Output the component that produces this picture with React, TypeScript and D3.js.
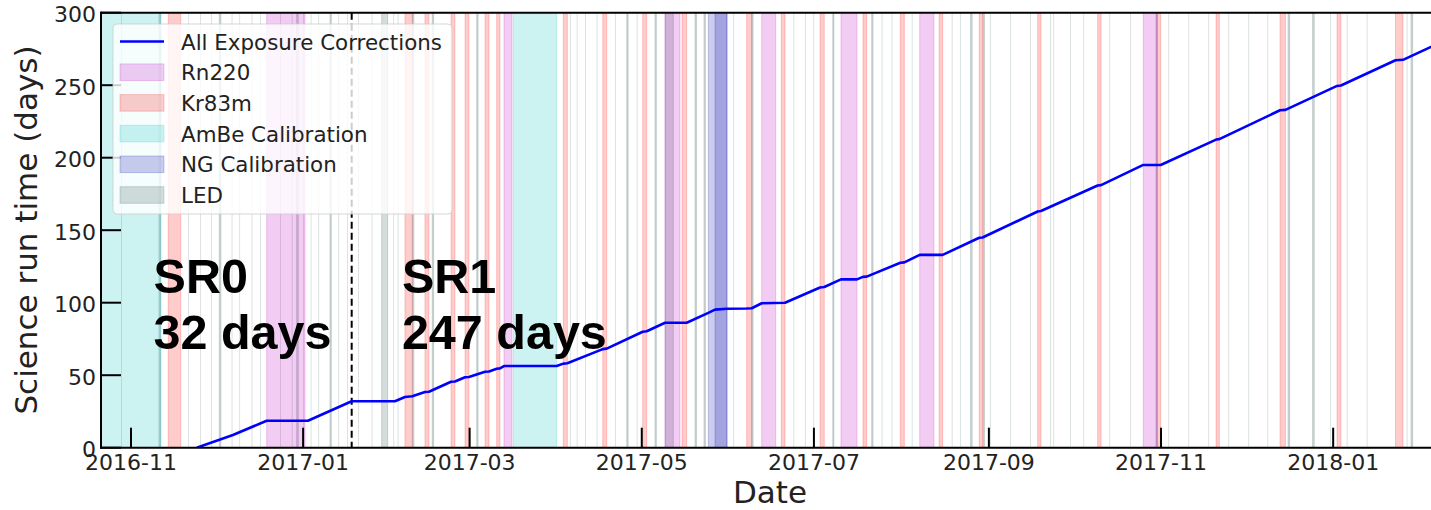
import React from 'react';
import * as d3 from 'd3';

// ---- data -------------------------------------------------------------
const X_DOMAIN = ['2016-10-21 09:00', '2018-02-07 12:00'];
const Y_DOMAIN = [0, 300];
const Y_TICKS = [0, 50, 100, 150, 200, 250, 300];
const SR_BOUNDARY = '2017-01-18 05:00';

const SR_LABELS = [
  { at: '2016-11-09 00:00', lines: ['SR0', '32 days'] },
  { at: '2017-02-05 00:00', lines: ['SR1', '247 days'] },
];

// cumulative science exposure [date, days]
const EXPOSURE: [string, number][] = [
  ['2016-11-24 07:00', 0], ['2016-12-07 03:00', 8.8], ['2016-12-19 02:00', 18.6],
  ['2017-01-02 17:00', 18.6], ['2017-01-18 05:00', 32], ['2017-02-02 13:00', 32],
  ['2017-02-06 02:00', 35.0], ['2017-02-08 16:00', 35.5], ['2017-02-13 04:00', 38.4],
  ['2017-02-14 14:00', 38.6], ['2017-02-22 10:00', 45.5], ['2017-02-23 19:00', 45.7],
  ['2017-02-27 09:00', 48.6], ['2017-02-28 18:00', 48.8], ['2017-03-06 11:00', 52.4],
  ['2017-03-07 21:00', 52.6], ['2017-03-10 14:00', 54.5], ['2017-03-11 18:00', 54.7],
  ['2017-03-13 04:00', 56.3], ['2017-03-31 20:00', 56.3], ['2017-04-03 05:00', 58.0],
  ['2017-04-04 15:00', 58.2], ['2017-04-17 04:00', 68.0], ['2017-04-18 14:00', 68.3],
  ['2017-05-01 08:00', 80.0], ['2017-05-02 18:00', 80.3], ['2017-05-09 06:00', 86.2],
  ['2017-05-16 22:00', 86.2], ['2017-05-24 14:00', 93.0], ['2017-05-26 23:00', 95.2],
  ['2017-05-31 05:00', 95.8], ['2017-06-07 04:00', 96.0], ['2017-06-08 23:00', 96.2],
  ['2017-06-12 12:00', 99.6], ['2017-06-20 18:00', 100.0], ['2017-07-03 04:00', 110.5],
  ['2017-07-04 16:00', 110.8], ['2017-07-10 14:00', 116.1], ['2017-07-16 06:00', 116.1],
  ['2017-07-18 09:00', 117.8], ['2017-07-19 17:00', 118.0], ['2017-07-31 15:00', 127.5],
  ['2017-08-02 01:00', 127.8], ['2017-08-07 12:00', 133.0], ['2017-08-15 15:00', 133.0],
  ['2017-08-28 14:00', 144.8], ['2017-08-29 18:00', 145.0], ['2017-09-18 07:00', 162.9],
  ['2017-09-19 11:00', 163.2], ['2017-10-09 13:00', 180.8], ['2017-10-10 18:00', 181.1],
  ['2017-10-25 17:00', 195.0], ['2017-10-31 21:00', 195.0], ['2017-11-20 12:00', 212.5],
  ['2017-11-21 16:00', 212.8], ['2017-12-13 04:00', 232.7], ['2017-12-15 02:00', 233.0],
  ['2018-01-02 09:00', 249.5], ['2018-01-03 18:00', 249.8], ['2018-01-23 02:00', 267.2],
  ['2018-01-25 18:00', 267.5], ['2018-02-07 12:00', 279.0],
];

// calibration periods [start, end]
const RN220: [string, string][] = [
  ['2016-12-19 02:00', '2017-01-01 16:00'], ['2017-03-13 04:00', '2017-03-16 00:00'],
  ['2017-05-09 06:00', '2017-05-14 13:00'], ['2017-06-12 12:00', '2017-06-17 11:00'],
  ['2017-07-10 14:00', '2017-07-16 06:00'], ['2017-08-07 12:00', '2017-08-12 13:00'],
  ['2017-10-25 17:00', '2017-10-30 11:00'],
];
const KR83M: [string, string][] = [
  ['2016-11-14 05:00', '2016-11-18 15:00'], ['2017-02-06 02:00', '2017-02-08 16:00'],
  ['2017-02-13 04:00', '2017-02-14 14:00'], ['2017-02-22 10:00', '2017-02-23 19:00'],
  ['2017-02-27 09:00', '2017-02-28 18:00'], ['2017-03-06 11:00', '2017-03-07 21:00'],
  ['2017-03-10 14:00', '2017-03-11 18:00'], ['2017-04-03 05:00', '2017-04-04 15:00'],
  ['2017-04-17 04:00', '2017-04-18 14:00'], ['2017-05-01 08:00', '2017-05-02 18:00'],
  ['2017-05-15 06:00', '2017-05-16 22:00'], ['2017-06-07 04:00', '2017-06-08 23:00'],
  ['2017-06-19 11:00', '2017-06-20 18:00'], ['2017-07-03 04:00', '2017-07-04 16:00'],
  ['2017-07-18 09:00', '2017-07-19 17:00'], ['2017-07-31 15:00', '2017-08-02 01:00'],
  ['2017-08-14 09:00', '2017-08-15 15:00'], ['2017-08-28 14:00', '2017-08-29 18:00'],
  ['2017-09-18 07:00', '2017-09-19 11:00'], ['2017-10-09 13:00', '2017-10-10 18:00'],
  ['2017-10-30 16:00', '2017-10-31 21:00'], ['2017-11-20 12:00', '2017-11-21 16:00'],
  ['2017-12-13 04:00', '2017-12-15 02:00'], ['2018-01-02 09:00', '2018-01-03 18:00'],
  ['2018-01-23 02:00', '2018-01-25 18:00'],
];
const AMBE: [string, string][] = [
  ['2016-10-10 00:00', '2016-11-11 15:00'], ['2017-03-16 11:00', '2017-03-31 20:00'],
];
const NG: [string, string][] = [
  ['2017-05-24 14:00', '2017-05-31 05:00'], ['2017-05-26 23:00', '2017-05-31 05:00'],
];
// LED runs [start, duration in hours]
const LED: [string, number][] = [
  ['2016-10-28 11:00', 7], ['2016-11-10 22:00', 14], ['2016-11-21 07:00', 7],
  ['2016-11-25 11:00', 7], ['2016-11-29 08:00', 7], ['2016-12-02 07:00', 14],
  ['2016-12-06 16:00', 7], ['2016-12-09 09:00', 7], ['2016-12-13 18:00', 7],
  ['2016-12-16 17:00', 7], ['2016-12-23 19:00', 7], ['2016-12-27 23:00', 7],
  ['2016-12-29 17:00', 14], ['2016-12-31 23:00', 7], ['2017-01-03 16:00', 7],
  ['2017-01-06 09:00', 7], ['2017-01-10 12:00', 12], ['2017-01-13 11:00', 7],
  ['2017-01-16 13:00', 7], ['2017-01-20 11:00', 7], ['2017-01-25 07:00', 7],
  ['2017-01-28 20:00', 51], ['2017-02-01 23:00', 7], ['2017-02-03 12:00', 7],
  ['2017-02-08 18:00', 12], ['2017-02-15 18:00', 12], ['2017-03-03 12:00', 12],
  ['2017-04-05 13:00', 7], ['2017-04-07 23:00', 7], ['2017-04-10 21:00', 7],
  ['2017-04-15 00:00', 7], ['2017-04-21 12:00', 7], ['2017-04-25 16:00', 12],
  ['2017-04-29 05:00', 7], ['2017-05-05 16:00', 12], ['2017-05-09 06:00', 70],
  ['2017-05-19 21:00', 12], ['2017-05-23 01:00', 12], ['2017-06-02 10:00', 7],
  ['2017-06-08 23:00', 12], ['2017-06-23 17:00', 7], ['2017-06-27 20:00', 7],
  ['2017-06-30 19:00', 7], ['2017-07-07 16:00', 10], ['2017-07-21 11:00', 12],
  ['2017-07-25 00:00', 7], ['2017-07-28 13:00', 7], ['2017-08-04 16:00', 7],
  ['2017-08-18 20:00', 7], ['2017-08-21 18:00', 7], ['2017-08-25 12:00', 14],
  ['2017-08-29 22:00', 12], ['2017-09-01 09:00', 7], ['2017-09-08 12:00', 7],
  ['2017-09-15 14:00', 7], ['2017-09-22 16:00', 7], ['2017-09-23 20:00', 7],
  ['2017-09-29 18:00', 7], ['2017-10-04 11:00', 7], ['2017-10-13 16:00', 7],
  ['2017-10-21 00:00', 7], ['2017-10-30 05:00', 12], ['2017-11-03 14:00', 7],
  ['2017-11-10 16:00', 7], ['2017-11-17 18:00', 7], ['2017-11-24 20:00', 7],
  ['2017-12-01 22:00', 7], ['2017-12-08 16:00', 7], ['2017-12-16 00:00', 14],
  ['2017-12-24 17:00', 14], ['2017-12-30 21:00', 7], ['2018-01-05 19:00', 7],
  ['2018-01-12 21:00', 7], ['2018-01-27 01:00', 7], ['2018-01-28 14:00', 14],
];

const LEGEND_LABELS = ['All Exposure Corrections', 'Rn220', 'Kr83m', 'AmBe Calibration', 'NG Calibration', 'LED'];

// ---- styling ----------------------------------------------------------
const COLORS = {
  line: '#0000ff',
  rn: 'rgb(191,0,191)',
  kr: 'rgb(255,0,0)',
  ambe: 'rgb(0,191,191)',
  ng: 'rgb(0,0,170)',
  led: 'rgb(47,79,79)',
};
const ALPHA = 0.2;
const FONT = '"DejaVu Sans", sans-serif';
const W = 1431;
const H = 510;
const PLOT = { left: 101, right: 1439, top: 12.7, bottom: 447.7 };

const parse = d3.utcParse('%Y-%m-%d %H:%M');
const pd = (s: string) => parse(s) as Date;

export default function App() {
  const x = d3.scaleUtc().domain([pd(X_DOMAIN[0]), pd(X_DOMAIN[1])]).range([PLOT.left, PLOT.right]);
  const y = d3.scaleLinear().domain(Y_DOMAIN).range([PLOT.bottom, PLOT.top]);
  const xTicks = x.ticks(d3.utcMonth.every(2) as d3.CountableTimeInterval);
  const fmt = d3.utcFormat('%Y-%m');

  const line = d3
    .line<[string, number]>()
    .x((d) => x(pd(d[0])))
    .y((d) => y(d[1]));

  // full-height span; very short spans are drawn as hairlines without an edge
  const span = (s: Date, e: Date, color: string, key: string, edge = true) => (
    <rect
      key={key}
      x={x(s)}
      y={PLOT.top - 5}
      width={Math.max(0, x(e) - x(s))}
      height={PLOT.bottom - PLOT.top + 10}
      fill={color}
      fillOpacity={ALPHA}
      stroke={edge ? color : 'none'}
      strokeOpacity={ALPHA}
      strokeWidth={1}
    />
  );

  const legendX = 113;
  const legendY = 24;
  const rowY = (i: number) => 41.5 + i * 30.7;
  const patchColors = [COLORS.rn, COLORS.kr, COLORS.ambe, COLORS.ng, COLORS.led];

  return (
    <svg
      width={W}
      height={H}
      style={{ position: 'fixed', left: 0, top: 0, background: '#fff' }}
      fontFamily={FONT}
    >
      <defs>
        <clipPath id="plot-area">
          <rect x={PLOT.left} y={PLOT.top} width={PLOT.right - PLOT.left} height={PLOT.bottom - PLOT.top} />
        </clipPath>
      </defs>
      <rect width={W} height={H} fill="#fff" />

      <g clipPath="url(#plot-area)">
        {LED.map(([s, h], i) => {
          const a = pd(s);
          return span(a, d3.utcHour.offset(a, h), COLORS.led, `led${i}`, h > 8);
        })}
        {AMBE.map(([s, e], i) => span(pd(s), pd(e), COLORS.ambe, `ambe${i}`))}
        {KR83M.map(([s, e], i) => span(pd(s), pd(e), COLORS.kr, `kr${i}`))}
        {RN220.map(([s, e], i) => span(pd(s), pd(e), COLORS.rn, `rn${i}`))}
        {NG.map(([s, e], i) => span(pd(s), pd(e), COLORS.ng, `ng${i}`))}

        <line
          x1={x(pd(SR_BOUNDARY))}
          x2={x(pd(SR_BOUNDARY))}
          y1={PLOT.top}
          y2={PLOT.bottom}
          stroke="#000"
          strokeWidth={2}
          strokeDasharray="7,4"
        />
        <path d={line(EXPOSURE) || ''} fill="none" stroke={COLORS.line} strokeWidth={2.6} strokeLinejoin="round" />
      </g>

      {/* inward ticks */}
      {Y_TICKS.map((v) => (
        <line key={`yt${v}`} x1={PLOT.left} x2={PLOT.left + 20} y1={y(v)} y2={y(v)} stroke="#000" strokeWidth={2} />
      ))}
      {xTicks.map((t) => (
        <line key={`xt${+t}`} x1={x(t)} x2={x(t)} y1={PLOT.bottom} y2={PLOT.bottom - 20} stroke="#000" strokeWidth={2} />
      ))}

      {/* spines */}
      <line x1={PLOT.left} x2={PLOT.left} y1={PLOT.top - 1} y2={PLOT.bottom + 1} stroke="#000" strokeWidth={2} />
      <line x1={PLOT.left - 1} x2={PLOT.right} y1={PLOT.bottom} y2={PLOT.bottom} stroke="#000" strokeWidth={2} />
      <line x1={PLOT.left - 1} x2={PLOT.right} y1={PLOT.top} y2={PLOT.top} stroke="#000" strokeWidth={2} />

      {/* tick labels */}
      {Y_TICKS.map((v) => (
        <text key={`yl${v}`} x={96} y={y(v) + 9.5} textAnchor="end" fontSize={22} fill="#222">
          {v}
        </text>
      ))}
      {xTicks.map((t) => (
        <text key={`xl${+t}`} x={x(t)} y={470} textAnchor="middle" fontSize={22} fill="#222">
          {fmt(t)}
        </text>
      ))}

      {/* axis titles */}
      <text x={770} y={503} textAnchor="middle" fontSize={31} fill="#222">
        Date
      </text>
      <text transform="translate(37,230) rotate(-90)" textAnchor="middle" fontSize={31} fill="#222">
        Science run time (days)
      </text>

      {/* run annotations */}
      {SR_LABELS.map((l) => (
        <text
          key={l.lines[0]}
          fontFamily='"Liberation Sans", Arial, sans-serif'
          fontWeight="bold"
          fontSize={48.5}
          fill="#000"
        >
          {l.lines.map((s, i) => (
            <tspan key={s} x={x(pd(l.at))} y={293 + i * 55.5}>
              {s}
            </tspan>
          ))}
        </text>
      ))}

      {/* legend */}
      <g>
        <rect
          x={legendX}
          y={legendY}
          width={339}
          height={190}
          rx={4}
          fill="#fff"
          fillOpacity={0.8}
          stroke="#ccc"
          strokeOpacity={0.8}
          strokeWidth={1}
        />
        <line x1={120} x2={164} y1={rowY(0)} y2={rowY(0)} stroke={COLORS.line} strokeWidth={2.6} />
        {patchColors.map((c, i) => (
          <rect
            key={`lp${i}`}
            x={120}
            y={rowY(i + 1) - 8.3}
            width={44}
            height={16.6}
            fill={c}
            fillOpacity={ALPHA}
            stroke={c}
            strokeOpacity={ALPHA}
            strokeWidth={1}
          />
        ))}
        {LEGEND_LABELS.map((s, i) => (
          <text key={s} x={181} y={rowY(i) + 8} fontSize={21.4} fill="#222">
            {s}
          </text>
        ))}
      </g>
    </svg>
  );
}
